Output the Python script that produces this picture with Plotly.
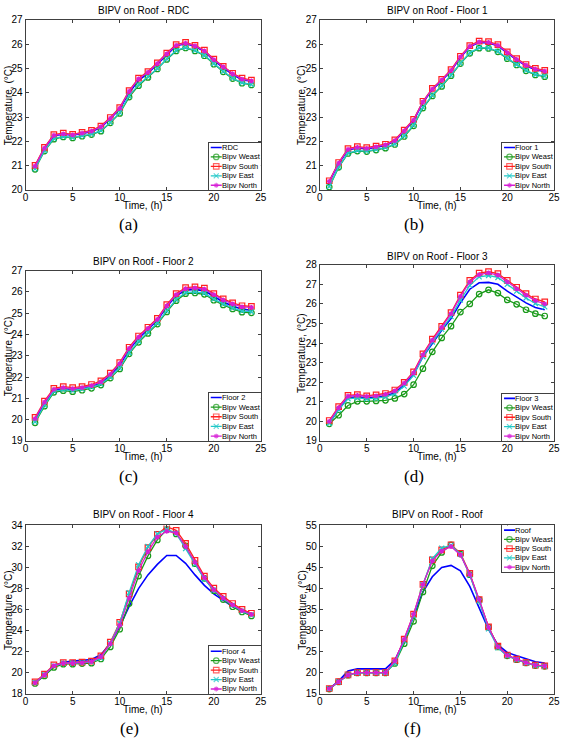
import plotly.graph_objects as go

# ---------------- data ----------------
hours = list(range(1, 25))
x_ticks = [0, 5, 10, 15, 20, 25]

series_names = ["Bipv Weast", "Bipv South", "Bipv East", "Bipv North"]
ref_names = ["RDC", "Floor 1", "Floor 2", "Floor 3", "Floor 4", "Roof"]
titles = ["BIPV on Roof - RDC", "BIPV on Roof - Floor 1", "BIPV on Roof - Floor 2",
          "BIPV on Roof - Floor 3", "BIPV on Roof - Floor 4", "BIPV on Roof - Roof"]
panel_labels = ["(a)", "(b)", "(c)", "(d)", "(e)", "(f)"]

# (a) RDC
a_ref = [20.97, 21.70, 22.23, 22.29, 22.25, 22.32, 22.40, 22.58, 22.93, 23.33, 24.00, 24.50,
         24.80, 25.17, 25.57, 25.93, 26.02, 25.90, 25.70, 25.33, 25.03, 24.75, 24.53, 24.47]
a_weast = [20.85, 21.60, 22.09, 22.18, 22.14, 22.21, 22.28, 22.42, 22.76, 23.15, 23.82, 24.29,
           24.63, 24.98, 25.37, 25.72, 25.84, 25.72, 25.52, 25.17, 24.86, 24.58, 24.39, 24.32]
a_south = [21.01, 21.75, 22.28, 22.34, 22.29, 22.37, 22.45, 22.63, 22.98, 23.39, 24.09, 24.60,
           24.87, 25.23, 25.63, 25.98, 26.07, 25.95, 25.75, 25.38, 25.08, 24.80, 24.60, 24.52]
a_east = [20.87, 21.62, 22.11, 22.20, 22.16, 22.23, 22.30, 22.44, 22.78, 23.18, 23.87, 24.33,
          24.66, 25.00, 25.39, 25.74, 25.86, 25.74, 25.54, 25.19, 24.88, 24.60, 24.41, 24.34]
a_north = [20.98, 21.72, 22.25, 22.31, 22.27, 22.34, 22.42, 22.60, 22.95, 23.36, 24.06, 24.57,
           24.84, 25.20, 25.60, 25.95, 26.04, 25.93, 25.72, 25.36, 25.06, 24.78, 24.56, 24.49]

# (b) Floor 1
b_ref = [20.33, 21.08, 21.65, 21.73, 21.69, 21.75, 21.83, 22.01, 22.41, 22.85, 23.60, 24.13,
         24.50, 24.90, 25.45, 25.89, 26.07, 26.05, 25.93, 25.63, 25.35, 25.11, 24.95, 24.87]
b_weast = [20.12, 20.93, 21.50, 21.60, 21.58, 21.64, 21.72, 21.87, 22.20, 22.64, 23.37, 23.87,
           24.26, 24.70, 25.20, 25.62, 25.83, 25.82, 25.68, 25.40, 25.14, 24.90, 24.73, 24.66]
b_south = [20.38, 21.13, 21.70, 21.78, 21.74, 21.80, 21.88, 22.06, 22.46, 22.90, 23.65, 24.18,
           24.55, 24.95, 25.50, 25.94, 26.12, 26.10, 25.98, 25.68, 25.40, 25.16, 25.00, 24.92]
b_east = [20.14, 20.95, 21.52, 21.62, 21.60, 21.66, 21.74, 21.89, 22.23, 22.67, 23.40, 23.90,
          24.29, 24.73, 25.22, 25.64, 25.85, 25.84, 25.70, 25.42, 25.16, 24.92, 24.75, 24.68]
b_north = [20.35, 21.10, 21.67, 21.75, 21.71, 21.77, 21.85, 22.03, 22.43, 22.87, 23.62, 24.15,
           24.52, 24.92, 25.47, 25.91, 26.09, 26.07, 25.95, 25.65, 25.37, 25.13, 24.97, 24.89]

# (c) Floor 2
c_ref = [19.98, 20.76, 21.38, 21.46, 21.41, 21.47, 21.56, 21.73, 22.09, 22.57, 23.28, 23.82,
         24.24, 24.67, 25.30, 25.82, 26.08, 26.12, 26.05, 25.78, 25.53, 25.34, 25.19, 25.14]
c_weast = [19.85, 20.63, 21.28, 21.36, 21.31, 21.38, 21.47, 21.62, 21.95, 22.38, 23.09, 23.63,
           24.05, 24.49, 25.06, 25.59, 25.92, 25.95, 25.89, 25.61, 25.39, 25.20, 25.05, 25.02]
c_south = [20.10, 20.87, 21.47, 21.55, 21.50, 21.55, 21.65, 21.82, 22.18, 22.68, 23.40, 23.93,
           24.34, 24.76, 25.40, 25.92, 26.20, 26.24, 26.18, 25.92, 25.67, 25.49, 25.35, 25.32]
c_east = [19.90, 20.68, 21.33, 21.41, 21.36, 21.43, 21.52, 21.67, 22.00, 22.43, 23.14, 23.68,
          24.10, 24.54, 25.11, 25.64, 25.97, 26.00, 25.94, 25.66, 25.44, 25.25, 25.10, 25.07]
c_north = [20.05, 20.82, 21.42, 21.50, 21.45, 21.50, 21.60, 21.77, 22.13, 22.63, 23.35, 23.88,
           24.29, 24.71, 25.35, 25.87, 26.15, 26.19, 26.13, 25.87, 25.62, 25.44, 25.30, 25.27]

# (d) Floor 3
d_ref = [19.90, 20.60, 21.20, 21.25, 21.20, 21.22, 21.30, 21.45, 21.85, 22.40, 23.30, 24.00,
         24.65, 25.25, 26.05, 26.75, 27.08, 27.10, 27.00, 26.65, 26.35, 26.05, 25.82, 25.70]
d_weast = [19.87, 20.31, 20.81, 21.02, 21.02, 21.04, 21.07, 21.17, 21.39, 21.87, 22.69, 23.55,
           24.26, 24.86, 25.58, 26.00, 26.50, 26.72, 26.55, 26.20, 25.98, 25.70, 25.50, 25.38]
d_south = [20.04, 20.75, 21.32, 21.36, 21.30, 21.35, 21.42, 21.60, 21.99, 22.53, 23.45, 24.20,
           24.85, 25.55, 26.45, 27.20, 27.57, 27.65, 27.55, 27.20, 26.85, 26.52, 26.25, 26.10]
d_east = [19.90, 20.60, 21.15, 21.20, 21.15, 21.18, 21.25, 21.40, 21.80, 22.35, 23.30, 24.05,
          24.70, 25.35, 26.20, 26.95, 27.38, 27.45, 27.35, 27.00, 26.65, 26.30, 26.02, 25.85]
d_north = [20.00, 20.70, 21.28, 21.32, 21.27, 21.30, 21.38, 21.55, 21.95, 22.48, 23.40, 24.15,
           24.80, 25.50, 26.38, 27.12, 27.50, 27.58, 27.47, 27.12, 26.77, 26.45, 26.17, 26.00]

# (e) Floor 4
e_ref = [19.05, 19.75, 20.65, 21.00, 21.10, 21.15, 21.25, 21.70, 22.80, 24.40, 26.30, 28.00,
         29.30, 30.30, 31.15, 31.15, 30.40, 29.30, 28.30, 27.50, 26.90, 26.30, 25.90, 25.50]
e_weast = [18.97, 19.69, 20.50, 20.81, 20.81, 20.87, 20.90, 21.30, 22.45, 24.13, 26.58, 29.19,
           31.11, 32.63, 33.60, 33.20, 32.07, 30.37, 28.97, 27.79, 26.95, 26.27, 25.77, 25.40]
e_south = [19.12, 19.87, 20.74, 20.96, 20.96, 21.00, 21.10, 21.60, 22.90, 24.78, 27.50, 30.06,
           31.90, 33.16, 33.88, 33.54, 32.30, 30.68, 29.19, 28.04, 27.26, 26.58, 26.02, 25.65]
e_east = [19.05, 19.80, 20.65, 20.90, 20.90, 20.95, 21.00, 21.40, 22.80, 24.70, 27.60, 30.25,
          32.00, 33.20, 33.65, 33.25, 31.80, 30.30, 28.90, 27.85, 27.05, 26.40, 25.85, 25.50]
e_north = [19.05, 19.80, 20.68, 20.92, 20.92, 20.96, 21.05, 21.50, 22.75, 24.50, 27.10, 29.70,
           31.50, 32.90, 33.45, 33.30, 32.00, 30.50, 29.05, 27.90, 27.10, 26.45, 25.90, 25.55]

# (f) Roof
f_ref = [16.2, 18.0, 20.4, 20.9, 20.9, 20.9, 20.9, 23.0, 27.5, 33.5, 39.2, 42.8,
         45.0, 45.5, 44.2, 40.5, 35.6, 30.3, 26.6, 24.8, 24.0, 23.3, 22.6, 22.3]
f_weast = [16.1, 17.8, 19.4, 19.95, 19.95, 19.95, 19.95, 22.2, 26.9, 32.2, 39.2, 45.4,
           48.6, 50.4, 48.2, 43.3, 37.3, 30.8, 26.1, 24.0, 23.1, 22.3, 21.7, 21.5]
f_south = [16.24, 17.87, 19.5, 20.0, 20.0, 20.0, 20.0, 22.8, 28.0, 33.9, 41.0, 46.8,
           49.2, 50.4, 48.4, 43.6, 37.4, 30.9, 26.3, 24.2, 23.2, 22.4, 21.8, 21.6]
f_east = [16.2, 17.85, 19.45, 19.95, 19.95, 19.95, 19.95, 22.3, 27.5, 33.5, 40.9, 47.1,
          49.6, 50.3, 48.2, 43.2, 37.0, 30.4, 25.9, 24.0, 23.1, 22.3, 21.7, 21.5]
f_north = [16.2, 17.85, 19.5, 20.0, 20.0, 20.0, 20.0, 22.8, 28.0, 33.9, 41.0, 46.6,
           48.9, 50.0, 48.0, 43.4, 37.4, 30.8, 26.2, 24.1, 23.2, 22.4, 21.8, 21.6]

panel_series = [
    [a_ref, a_weast, a_south, a_east, a_north],
    [b_ref, b_weast, b_south, b_east, b_north],
    [c_ref, c_weast, c_south, c_east, c_north],
    [d_ref, d_weast, d_south, d_east, d_north],
    [e_ref, e_weast, e_south, e_east, e_north],
    [f_ref, f_weast, f_south, f_east, f_north],
]
y_ranges = [[20, 27], [20, 27], [19, 27], [19, 28], [18, 34], [15, 55]]
y_dticks = [1, 1, 1, 1, 2, 5]

# ---------------- layout geometry (pixels) ----------------
W, H = 567, 743
def fx(px): return px / W
def fy(py): return 1 - py / H

# axes boxes: x0, x1, ytop, ybottom
axes_px = [(23, 262, 14, 187), (322, 560, 14, 187),
           (23, 262, 269, 442), (322, 560, 263, 442),
           (23, 262, 528, 699), (322, 560, 528, 699)]
legend_px = [(209, 262, 139, 187), (507, 560, 139, 187),
             (209, 262, 393, 442), (507, 560, 394, 442),
             (209, 262, 651, 699), (507, 560, 528, 575)]
title_y = [5, 5, 260, 255, 517, 517]
xlabel_y = [203, 203, 458, 458, 715, 715]
ylabel_x = [5.5, 304, 5.5, 304, 5.5, 304]
plabel_xy = [(128, 222), (418, 222), (128, 478), (418, 478), (129, 734), (416, 734)]

colors = ["#0000ff", "#1a9a1a", "#ff2020", "#20c8c8", "#d61ed6"]
symbols = [None, "circle-open", "square-open", "x-thin-open", "asterisk-open"]
msizes = [0, 5.5, 5.5, 5, 4]

SANS = "Liberation Sans, Arial, sans-serif"
SERIF = "Liberation Serif, Times New Roman, serif"
FRAME = "#404040"

fig = go.Figure()
layout = dict(width=W, height=H, margin=dict(l=0, r=0, t=0, b=0),
              paper_bgcolor="white", plot_bgcolor="white", showlegend=False,
              font=dict(family=SANS, color="black", size=10))
annotations = []

for k in range(6):
    n = k + 1
    xa = "xaxis" if n == 1 else f"xaxis{n}"
    ya = "yaxis" if n == 1 else f"yaxis{n}"
    xr = "x" if n == 1 else f"x{n}"
    yr = "y" if n == 1 else f"y{n}"
    x0, x1, yt, yb = axes_px[k]
    layout[xa] = dict(domain=[fx(x0), fx(x1)], range=[0, 25], tickvals=x_ticks,
                      anchor=yr, showline=True, mirror="ticks", linecolor=FRAME, linewidth=1,
                      ticks="inside", ticklen=3, tickcolor=FRAME, showgrid=False, zeroline=False,
                      ticklabelstandoff=-2,
                      tickfont=dict(family=SANS, size=10, color="black"), fixedrange=True)
    layout[ya] = dict(domain=[fy(yb), fy(yt)], range=y_ranges[k], dtick=y_dticks[k], tick0=0,
                      anchor=xr, showline=True, mirror="ticks", linecolor=FRAME, linewidth=1,
                      ticks="inside", ticklen=3, tickcolor=FRAME, showgrid=False, zeroline=False,
                      tickfont=dict(family=SANS, size=10, color="black"), fixedrange=True)

    names = [ref_names[k]] + series_names
    for j, ys in enumerate(panel_series[k]):
        if symbols[j] is None:
            fig.add_trace(go.Scatter(x=hours, y=ys, mode="lines", name=names[j],
                                     line=dict(color=colors[j], width=1.6),
                                     xaxis=xr, yaxis=yr))
        else:
            fig.add_trace(go.Scatter(x=hours, y=ys, mode="lines+markers", name=names[j],
                                     line=dict(color=colors[j], width=1.3),
                                     marker=dict(symbol=symbols[j], size=msizes[j],
                                                 color=colors[j], line=dict(color=colors[j], width=1.2)),
                                     xaxis=xr, yaxis=yr))

    # titles and labels
    cx = fx((x0 + x1) / 2)
    annotations.append(dict(text=titles[k], x=cx, y=fy(title_y[k]), xref="paper", yref="paper",
                            showarrow=False, xanchor="center", yanchor="middle",
                            font=dict(family=SANS, size=10, color="black")))
    annotations.append(dict(text="Time, (h)", x=cx, y=fy(xlabel_y[k]), xref="paper", yref="paper",
                            showarrow=False, xanchor="center", yanchor="middle", borderpad=0,
                            font=dict(family=SANS, size=10, color="black")))
    annotations.append(dict(text="Temperature, (°C)", x=fx(ylabel_x[k]), y=fy((yt + yb) / 2),
                            xref="paper", yref="paper", textangle=-90,
                            showarrow=False, xanchor="center", yanchor="middle",
                            font=dict(family=SANS, size=10, color="black")))
    px_, py_ = plabel_xy[k]
    annotations.append(dict(text=panel_labels[k], x=fx(px_), y=fy(py_), xref="paper", yref="paper",
                            showarrow=False, xanchor="center", yanchor="middle", borderpad=0,
                            font=dict(family=SERIF, size=17, color="black")))

    # legend box on its own overlay axes
    m = n + 6
    lxa, lya = f"xaxis{m}", f"yaxis{m}"
    lxr, lyr = f"x{m}", f"y{m}"
    lx0, lx1, lyt, lyb = legend_px[k]
    layout[lxa] = dict(domain=[fx(lx0), fx(lx1)], range=[0, 1], anchor=lyr, showline=True,
                       mirror=True, linecolor=FRAME, linewidth=1, showticklabels=False,
                       ticks="", showgrid=False, zeroline=False, fixedrange=True)
    layout[lya] = dict(domain=[fy(lyb), fy(lyt)], range=[0, 5], anchor=lxr, showline=True,
                       mirror=True, linecolor=FRAME, linewidth=1, showticklabels=False,
                       ticks="", showgrid=False, zeroline=False, fixedrange=True)
    for j, nm in enumerate(names):
        yy = 4.5 - j
        fig.add_trace(go.Scatter(x=[0.04, 0.145, 0.25], y=[yy, yy, yy], mode="lines+markers",
                                 line=dict(color=colors[j], width=1.6 if j == 0 else 1.3),
                                 marker=dict(symbol=symbols[j] or "circle", size=[0, msizes[j], 0],
                                             color=colors[j], line=dict(color=colors[j], width=1.2)),
                                 xaxis=lxr, yaxis=lyr, hoverinfo="skip"))
        annotations.append(dict(text=nm, x=0.24, y=yy, xref=lxr, yref=lyr, showarrow=False,
                                xanchor="left", yanchor="middle", borderpad=0,
                                font=dict(family=SANS, size=7.5, color="black")))

layout["annotations"] = annotations
fig.update_layout(**layout)
fig.write_html("out.html", config={"displayModeBar": False},
               post_script="document.body.style.margin='0';document.body.style.overflow='hidden';")
